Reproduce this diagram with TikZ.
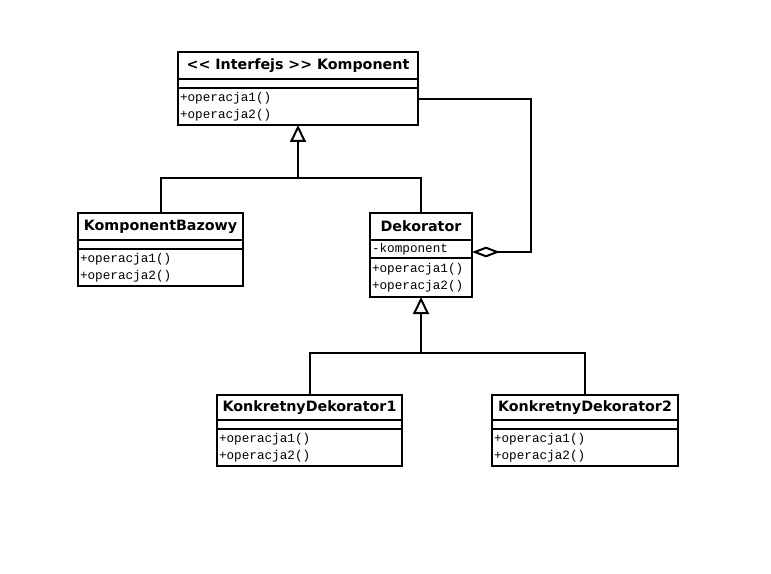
\documentclass[tikz,border=0pt]{standalone}
\usepackage{fontspec}
\newfontfamily\umlsans{DejaVu Sans}
\newfontfamily\umlmono{Liberation Mono}
\usetikzlibrary{arrows.meta,positioning,calc}
\tikzset{>=latex}
\tikzset{
	box/.style={draw, line width=1.5pt, outer sep=0pt, inner xsep=1.5pt, inner ysep=1pt},
	classname/.style={box, align=center, minimum height=20.25pt, font=\umlsans\bfseries\fontsize{10.7pt}{13pt}\selectfont},
	classattr/.style={box, align=left, minimum height=6.75pt, font=\umlmono\fontsize{9.5pt}{12.75pt}\selectfont},
	classops/.style={box, align=left, minimum height=27.75pt, font=\umlmono\fontsize{9.5pt}{12.75pt}\selectfont},
	inherit/.style={line width=1.5pt, -{Triangle[open, length=12.75pt, width=12pt]}},
	aggreg/.style={line width=1.5pt, {Diamond[open, length=21pt, width=8pt]}-}
}
\begin{document}
\begin{tikzpicture}[x=0.75pt, y=-0.75pt]
		\useasboundingbox (0,0) rectangle (771,574);
		\node[classname, text width=177pt, anchor=north west] (komp-t) at (178,52) {<< Interfejs >> Komponent};
		\node[classattr, text width=177pt, below=0pt of komp-t] (komp-a) {};
		\node[classops, text width=177pt, below=0pt of komp-a] (komp-m) {+operacja1()\\+operacja2()};

		\node[classname, text width=120.75pt, anchor=north west] (baz-t) at (78,213) {KomponentBazowy};
		\node[classattr, text width=120.75pt, below=0pt of baz-t] (baz-a) {};
		\node[classops, text width=120.75pt, below=0pt of baz-a] (baz-m) {+operacja1()\\+operacja2()};

		\node[classname, text width=73.5pt, anchor=north west] (dek-t) at (370,213) {Dekorator};
		\node[classattr, text width=73.5pt, minimum height=13.5pt, below=0pt of dek-t] (dek-a) {-komponent};
		\node[classops, text width=73.5pt, minimum height=29.25pt, below=0pt of dek-a] (dek-m) {+operacja1()\\+operacja2()};

		\node[classname, text width=135.75pt, minimum height=18.75pt, anchor=north west] (kd1-t) at (217,395) {KonkretnyDekorator1};
		\node[classattr, text width=135.75pt, below=0pt of kd1-t] (kd1-a) {};
		\node[classops, text width=135.75pt, below=0pt of kd1-a] (kd1-m) {+operacja1()\\+operacja2()};

		\node[classname, text width=136.5pt, minimum height=18.75pt, anchor=north west] (kd2-t) at (492,395) {KonkretnyDekorator2};
		\node[classattr, text width=136.5pt, below=0pt of kd2-t] (kd2-a) {};
		\node[classops, text width=136.5pt, below=0pt of kd2-a] (kd2-m) {+operacja1()\\+operacja2()};

		\coordinate (j1) at ($(komp-m.south)+(0,53)$);
		\coordinate (j2) at ($(dek-m.south)+(0,56)$);
		\coordinate (agg) at (531,0);
		\coordinate (komp-in) at ([yshift=5.6pt]komp-m.east);
		\coordinate (dek-out) at ([yshift=-2.25pt]dek-a.east);

		\draw[line width=1.5pt] (baz-t.north) |- (j1) -| (dek-t.north);
		\draw[inherit] (j1) -- (komp-m.south);
		\draw[line width=1.5pt] (kd1-t.north) |- (j2) -| (kd2-t.north);
		\draw[inherit] (j2) -- (dek-m.south);
		\draw[aggreg] (dek-out) -| (agg |- komp-in) -- (komp-in);
	\end{tikzpicture}
\end{document}
